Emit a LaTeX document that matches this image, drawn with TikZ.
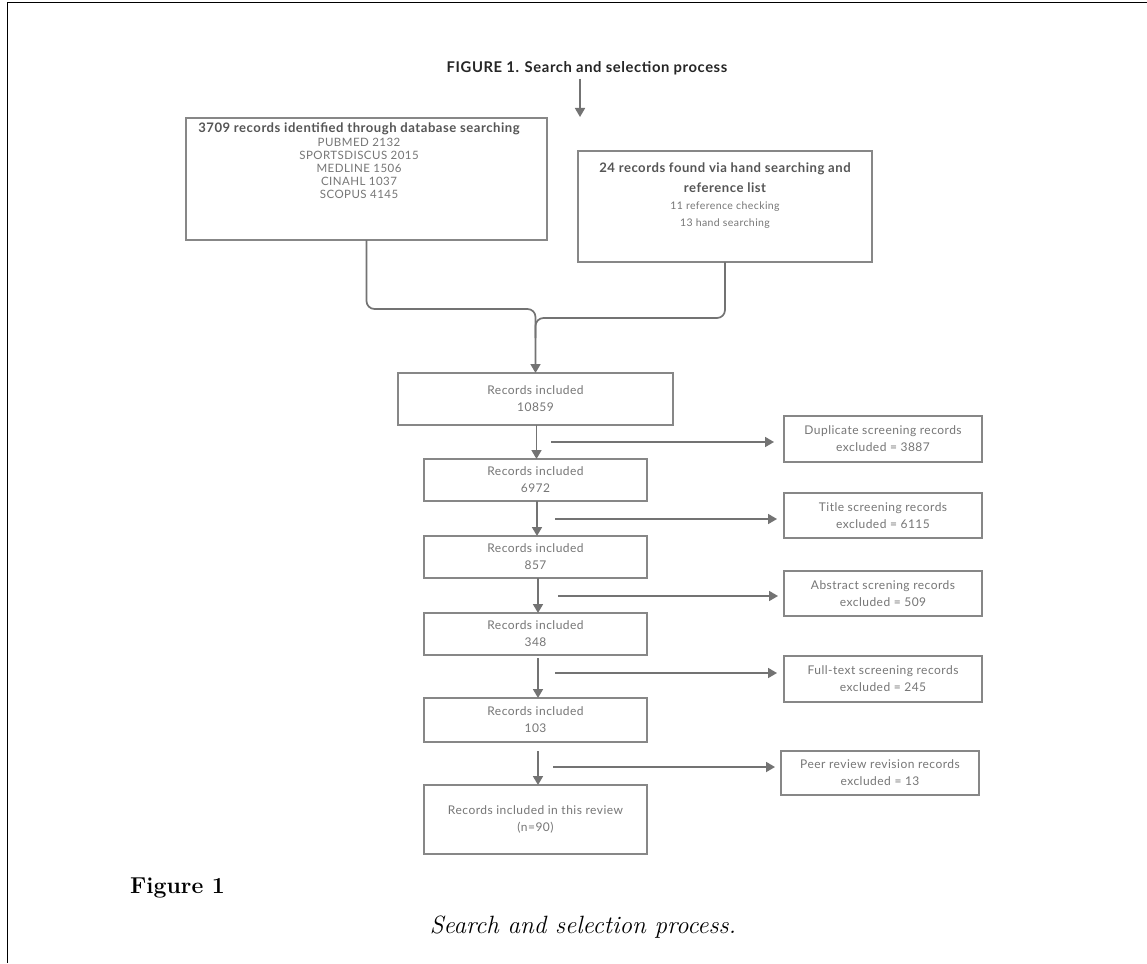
\documentclass[tikz,border=0pt]{standalone}
\usepackage{fontspec}
\newfontfamily\lato{Lato}[LetterSpace=4]
\usetikzlibrary{arrows.meta,calc}
\definecolor{boxc}{RGB}{135,135,135}
\definecolor{txtc}{RGB}{118,118,118}
\definecolor{hdc}{RGB}{85,85,85}
\definecolor{arrc}{RGB}{115,115,115}
\newcommand{\hdl}[1]{{\fontsize{13.1}{15}\selectfont\bfseries\color{hdc}#1}}
\begin{document}
\begin{tikzpicture}[x=1pt,y=-1pt,
  bx/.style={draw=boxc,line width=1.6pt,inner sep=0pt,outer sep=0pt},
  tx/.style={text=txtc,font=\lato\fontsize{12}{17}\selectfont,align=center,inner sep=0pt},
  ln/.style={draw=arrc,line width=1.7pt},
  ar/.style={ln,-{Triangle[length=9pt,width=10pt]}}]
\useasboundingbox (0,0) rectangle (1147,963);
\fill[white] (0,0) rectangle (1147,963);
\draw[black,line width=1pt] (1147,3) -- (7,3) -- (7,963);

% title
\node[font=\lato\bfseries\fontsize{14.8}{16}\selectfont,text=black!85,inner sep=2pt] (title) at (587,68) {FIGURE 1. Search and selection process};
\coordinate (t1) at (580,117);
\draw[ar,shorten <=2pt] (title.south -| t1) -- (t1);

% top boxes
\node[bx,minimum width=361pt,minimum height=122pt] (db) at (366.5,179) {};
\node[tx,anchor=north,font=\lato\fontsize{11.5}{13}\selectfont] (dbt) at (359,123)
  {\hdl{3709 records identified through database searching}\\[1pt]
   PUBMED 2132\\ SPORTSDISCUS 2015\\ MEDLINE 1506\\ CINAHL 1037\\ SCOPUS 4145};
\node[bx,minimum width=294pt,minimum height=111pt] (hand) at (725,206.5) {};
\node[tx,anchor=north,font=\lato\fontsize{10.5}{17}\selectfont] (handt) at (725,163)
  {\hdl{24 records found via hand searching and}\\[3pt] \hdl{reference list}\\
   11 reference checking\\ 13 hand searching};

% main column
\node[bx,tx,minimum width=275pt,minimum height=52pt] (r1) at (535.5,399) {Records included\\ 10859};
\node[bx,tx,minimum width=223pt,minimum height=42pt] (r2) at (535.5,480) {Records included\\ 6972};
\node[bx,tx,minimum width=223pt,minimum height=42pt] (r3) at (535.5,557) {Records included\\ 857};
\node[bx,tx,minimum width=223pt,minimum height=42pt] (r4) at (535.5,634) {Records included\\ 348};
\node[bx,tx,minimum width=223pt,minimum height=44pt] (r5) at (535.5,720) {Records included\\ 103};
\node[bx,tx,minimum width=223pt,minimum height=69pt] (r6) at (535.5,819.5) {Records included in this review\\ (n=90)};

% right column
\node[bx,tx,minimum width=198pt,minimum height=46pt] (dup) at (883,439) {Duplicate screening records\\ excluded = 3887};
\node[bx,tx,minimum width=198pt,minimum height=45pt] (tit) at (883,515.5) {Title screening records\\ excluded = 6115};
\node[bx,tx,minimum width=198pt,minimum height=45pt] (abs) at (883,593.5) {Abstract screning records\\ excluded = 509};
\node[bx,tx,minimum width=198pt,minimum height=46pt] (full) at (883,679) {Full-text screening records\\ excluded = 245};
\node[bx,tx,minimum width=198pt,minimum height=44pt] (peer) at (880,773) {Peer review revision records\\ excluded = 13};

% merge connectors
\draw[ar,rounded corners=8pt] (db.south) -- ++(0,69) -| (r1.north);
\draw[ln,rounded corners=8pt] (hand.south) |- ($(r1.north)+(0,-55)$) -- ($(r1.north)+(0,-35)$);

% vertical arrows
\draw[ar] ($(r1.south)+(1,0)$) -- ($(r2.north)+(1,0)$);
\draw[ar] ($(r2.south)+(1.5,0)$) -- ($(r3.north)+(1.5,0)$);
\draw[ar] ($(r3.south)+(2.5,0)$) -- ($(r4.north)+(2.5,0)$);
\draw[ar,shorten <=3pt] ($(r4.south)+(2.5,0)$) -- ($(r5.north)+(2.5,0)$);
\draw[ar,shorten <=9pt] ($(r5.south)+(2.5,0)$) -- ($(r6.north)+(2.5,0)$);

% side arrows
\coordinate (s1) at (551,442);
\coordinate (s2) at (555,519);
\coordinate (s3) at (558,596);
\coordinate (s4) at (555,673);
\coordinate (s5) at (553,767);
\draw[ar,shorten >=10pt] (s1) -- (s1 -| dup.west);
\draw[ar,shorten >=7pt] (s2) -- (s2 -| tit.west);
\draw[ar,shorten >=6pt] (s3) -- (s3 -| abs.west);
\draw[ar,shorten >=7pt] (s4) -- (s4 -| full.west);
\draw[ar,shorten >=6pt] (s5) -- (s5 -| peer.west);

% caption
\node[font=\bfseries\fontsize{23}{26}\selectfont,anchor=west,inner sep=0pt] (fig) at (130,888) {Figure 1};
\node[font=\itshape\fontsize{25}{28}\selectfont,inner sep=0pt] (cap) at (583,927) {Search and selection process.};
\end{tikzpicture}
\end{document}
